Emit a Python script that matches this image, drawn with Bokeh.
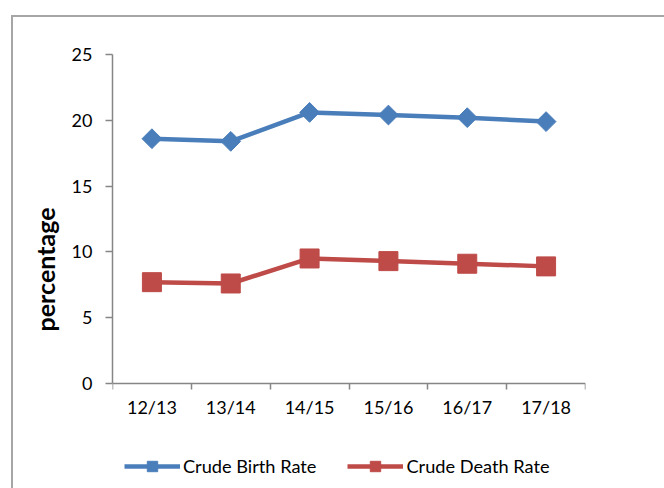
import numpy as np
from bokeh.plotting import figure
from bokeh.models import (Range1d, LinearAxis, FixedTicker, Legend, LegendItem,
                          ColumnDataSource)
from bokeh.embed import file_html
from bokeh.resources import INLINE

# ---- data ----
categories = ["12/13", "13/14", "14/15", "15/16", "16/17", "17/18"]
birth_rate = [18.6, 18.4, 20.6, 20.4, 20.2, 19.9]
death_rate = [7.7, 7.6, 9.5, 9.3, 9.1, 8.9]
y_ticks = [0, 5, 10, 15, 20, 25]
series_names = ["Crude Birth Rate", "Crude Death Rate"]
y_title = "percentage"

# ---- style ----
FONT = "Lato"
BLUE = "#4A7EBB"
RED = "#BE4B48"
AXIS_GRAY = "#868686"
BORDER_GRAY = "#A6A6A6"

n = len(categories)
centers = [i + 0.5 for i in range(n)]      # category slots (Excel style)
bounds = list(range(n + 1))                # tick marks between categories
src = ColumnDataSource(dict(x=centers, cat=categories,
                            birth=birth_rate, death=death_rate))

# plot area: value axis occupies 329 px; the frame continues below to hold
# the x labels and the legend (so nothing is clipped)
AXIS_PX = 329
FRAME_PX = 430
y_lo, y_hi = y_ticks[0], y_ticks[-1]
y_start = y_hi - (y_hi - y_lo) * FRAME_PX / AXIS_PX

p = figure(frame_width=473, frame_height=FRAME_PX, width=660, height=514,
           x_range=Range1d(0, n),
           y_range=Range1d(y_start, y_hi),
           output_backend="svg", toolbar_location=None,
           x_axis_location=None, y_axis_location=None,
           min_border_left=112, min_border_right=75,
           min_border_top=54, min_border_bottom=0)
p.outline_line_color = None
p.grid.visible = False
p.background_fill_color = "white"
p.border_fill_color = "white"

x_axis = LinearAxis(ticker=FixedTicker(ticks=centers, minor_ticks=bounds),
                    fixed_location=y_lo,
                    major_label_overrides={c: cat for c, cat in zip(centers, categories)},
                    major_label_standoff=6,
                    major_label_text_font=FONT,
                    major_label_text_font_size="18px",
                    major_label_text_color="black",
                    major_tick_in=0, major_tick_out=0,
                    minor_tick_in=0, minor_tick_out=6,
                    axis_line_color=AXIS_GRAY, axis_line_width=1.5,
                    minor_tick_line_color=AXIS_GRAY, minor_tick_line_width=1.5)
p.add_layout(x_axis, "below")

y_axis = LinearAxis(ticker=FixedTicker(ticks=y_ticks),
                    bounds=(y_lo, y_hi),
                    axis_label=y_title,
                    axis_label_text_font=FONT,
                    axis_label_text_font_style="bold",
                    axis_label_text_font_size="25px",
                    axis_label_text_color="black",
                    axis_label_standoff=9,
                    major_label_text_font=FONT,
                    major_label_text_font_size="18px",
                    major_label_text_color="black",
                    major_label_standoff=13,
                    major_tick_in=0, major_tick_out=7,
                    minor_tick_in=0, minor_tick_out=0,
                    axis_line_color=AXIS_GRAY, axis_line_width=1.5,
                    major_tick_line_color=AXIS_GRAY, major_tick_line_width=1.5)
p.add_layout(y_axis, "left")

l1 = p.line(x="x", y="birth", source=src, line_color=BLUE, line_width=4.5)
s1 = p.scatter(x="x", y="birth", source=src, marker="square", angle=np.pi / 4,
               size=14, color=BLUE)
l2 = p.line(x="x", y="death", source=src, line_color=RED, line_width=4.5)
s2 = p.scatter(x="x", y="death", source=src, marker="square", size=19, color=RED)

legend = Legend(items=[LegendItem(label=series_names[0], renderers=[l1, s1]),
                       LegendItem(label=series_names[1], renderers=[l2, s2])],
                orientation="horizontal", location=(12, 5),
                glyph_width=56, glyph_height=26,
                label_text_font=FONT, label_text_font_size="18.2px",
                label_text_color="black",
                spacing=31, label_standoff=3,
                border_line_alpha=0, background_fill_alpha=0,
                margin=0, padding=0)
p.add_layout(legend, "center")

html = file_html(p, INLINE)
# outer chart-area border of the original (runs off the picture at right/bottom)
extra_css = ("<style>html,body{overflow:hidden;}"
             "body::after{content:'';position:fixed;left:11px;top:15px;"
             "width:1000px;height:1000px;border:2px solid " + BORDER_GRAY + ";"
             "pointer-events:none;z-index:10;}</style>")
html = html.replace("</head>", extra_css + "</head>", 1)
open("out.html", "w").write(html)
